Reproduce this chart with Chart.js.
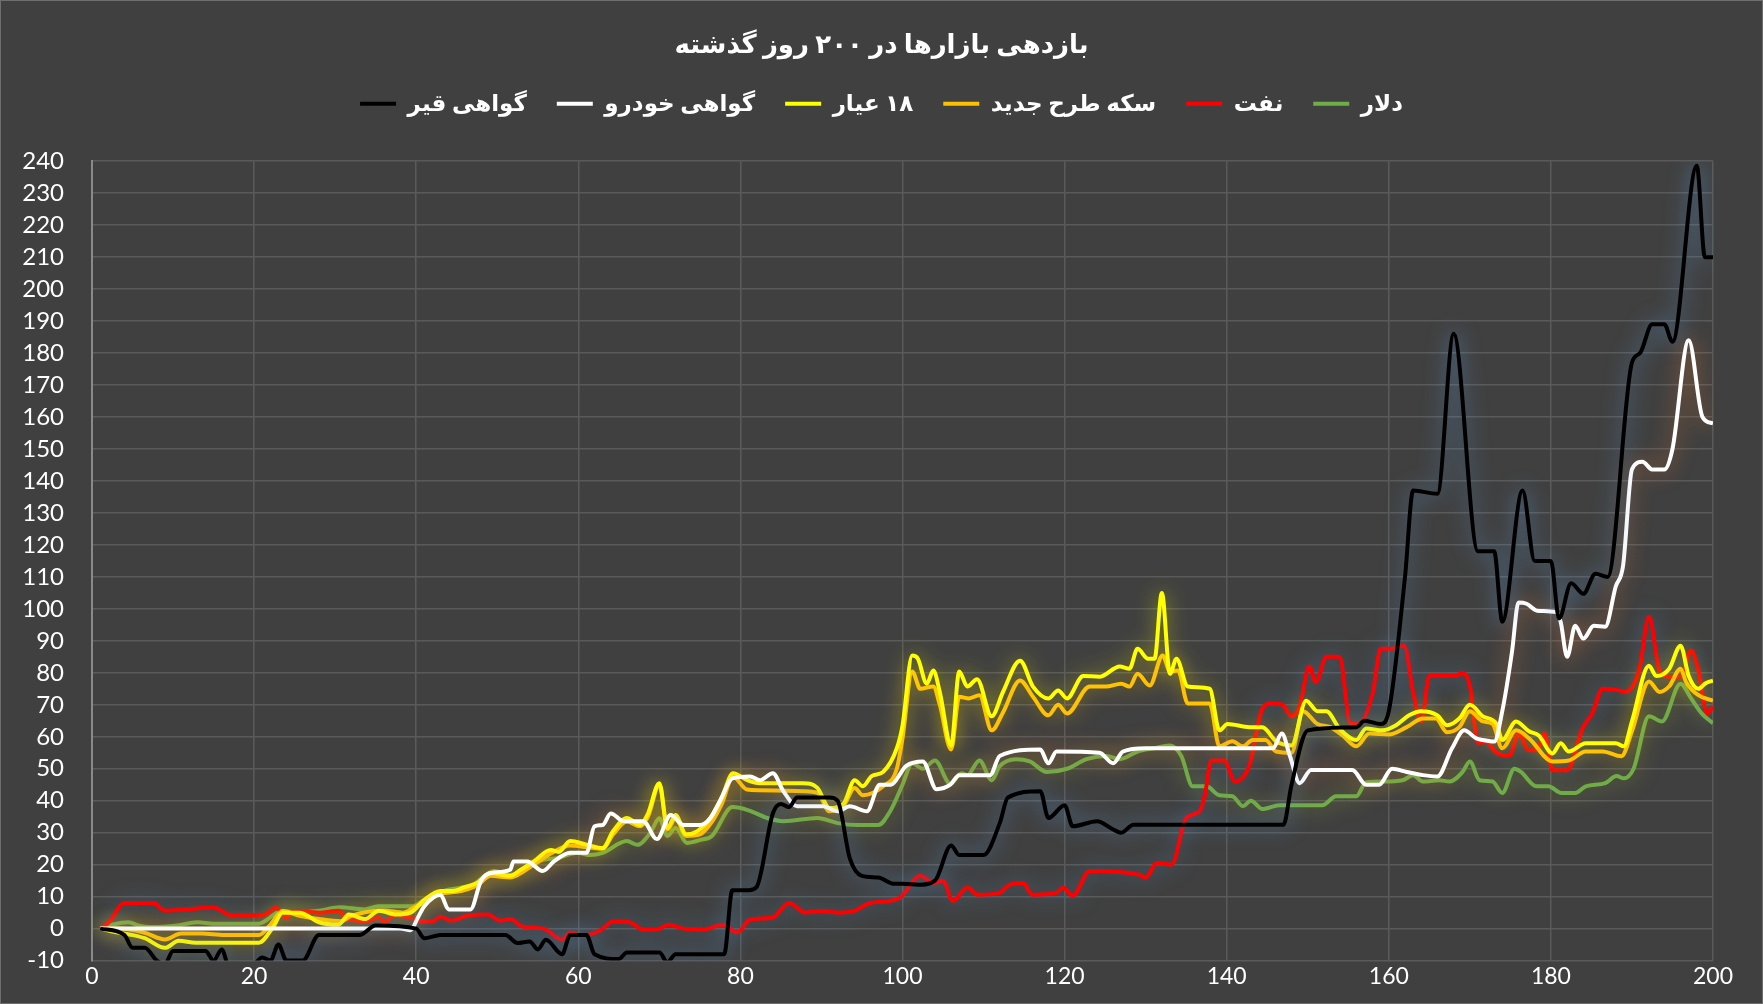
<!DOCTYPE html>
<html>
<head>
<meta charset="utf-8">
<script src="https://cdn.jsdelivr.net/npm/chart.js@4.4.1/dist/chart.umd.min.js"></script>
<style>
  html, body { margin: 0; padding: 0; background: #404040; }
  #wrap { width: 1763px; height: 1004px; box-sizing: border-box; border: 1px solid #6e6e6e; }
</style>
</head>
<body>
<div id="wrap"><canvas id="grafico"></canvas></div>
<script>
// دلار
const dollarDays = [1, 2.6, 4.5, 5.7, 7.3, 10.5, 13, 15, 20.5, 23.5, 25.2, 28, 30.6, 33.6, 35.3, 38, 39.5, 41, 43.4, 45.5, 47, 49.6, 51.6, 53.2, 55.7, 57.4, 59.9, 61.5, 63, 66, 67.3, 68.9, 70, 71, 72, 73.4, 75, 76.5, 79, 81, 83.3, 85.3, 89.5, 92, 94.4, 97, 98.5, 100, 101.2, 102.5, 104, 105.9, 107.3, 108, 109.5, 111, 112, 114, 115.7, 117.8, 120.3, 122.7, 125.2, 126.8, 129, 131, 133, 134.4, 135.8, 137.5, 139.1, 140.7, 142, 143, 144.4, 146.5, 151.8, 153.5, 156, 157.2, 159.2, 161.7, 163, 164.2, 166.2, 167.5, 169.1, 170, 171.2, 172.8, 174, 175.5, 176.3, 178.2, 179.7, 181.3, 183, 184.3, 186.7, 188.1, 189, 190.2, 192.1, 193.7, 196, 197.3, 198.6, 200];
const dollarVals = [0, 1.3, 2, 1, 0.5, 1, 2, 1.5, 1.5, 5.6, 5, 5.6, 6.7, 6, 7, 7, 7, 9, 11.8, 12.8, 13.7, 18, 16.8, 18.4, 21.5, 22, 23.7, 23, 23.7, 27.4, 26.2, 30, 34.5, 29, 31.5, 26.8, 27.7, 29, 38, 37, 34.6, 33.6, 34.6, 33, 32.4, 32.4, 36.8, 45, 51.7, 50, 52.6, 45.3, 48.6, 48, 52.6, 46.4, 50.8, 53, 52.3, 49, 50, 53, 54, 53, 55.4, 56.4, 57.3, 54, 44.5, 44.5, 41.7, 41.4, 38.3, 40, 37.4, 38.6, 38.6, 41.4, 41.4, 45.8, 46, 46.4, 48, 46, 46.4, 46, 49, 52.3, 46.4, 46, 42.4, 50, 49, 44.5, 44.5, 42.4, 42.4, 44.5, 45.5, 47.7, 47, 50, 66.4, 64.8, 76.6, 72, 67.3, 64.2];

// نفت
const oilDays = [1, 2.1, 4, 7.6, 9, 15, 17.4, 21.4, 22.7, 24, 24.8, 28, 30.5, 31.3, 33.8, 35.4, 36, 37.3, 39.3, 41, 42, 43, 44.3, 46.3, 48.8, 50.4, 51.6, 53.2, 55.7, 58, 59, 60.4, 62.7, 64.3, 66.3, 68, 69.7, 71.1, 73, 75.4, 77.9, 79.6, 81.2, 84, 86, 88, 90, 92, 94, 96, 98, 99.7, 102.2, 103.8, 105, 106.2, 108, 109.3, 112, 113.2, 114.9, 116, 119, 119.8, 121, 123.1, 129.3, 130, 131.4, 133.2, 135, 136.7, 137.3, 138.1, 139.7, 141, 142.8, 144.4, 145.5, 146.9, 148, 149, 150.2, 151, 152.3, 153.9, 155.3, 156.3, 158, 159, 160.4, 161.9, 163, 164, 165, 168.3, 169, 170, 171, 171.9, 173.3, 174.9, 176, 177.3, 178.3, 179.2, 180.2, 182, 183.9, 185.1, 186.4, 188.4, 189.2, 190.9, 192.1, 193.4, 194.6, 196, 197.3, 198.2, 199.3, 200];
const oilVals = [0, 2, 8, 8, 5.6, 6.5, 4, 4.4, 6.5, 3.4, 5.5, 5, 5.6, 3.4, 2.3, 3.5, 2, 4, 3.4, 2.2, 2.2, 3.7, 2.5, 4, 4.4, 2.5, 3, 0.6, 0, -3.4, -1.2, -2.2, -0.6, 2.2, 2, -0.3, -0.3, 1.2, 0, -0.3, 1.2, -1.2, 2.8, 3.5, 8, 5, 5.5, 5, 5.5, 8, 8.5, 9.7, 16.5, 14.3, 15, 8.7, 12.8, 10.6, 11.2, 13.7, 14.3, 10.6, 11.2, 12.8, 10.3, 18, 16.8, 15.9, 20.6, 20, 34.6, 36.8, 41.7, 52.6, 52.6, 46, 51, 68.8, 70.4, 70, 66.4, 69.5, 82, 77, 85, 85, 64, 64, 73.5, 87.5, 87.5, 88.5, 74, 64.8, 79, 79, 80, 76, 58, 58.5, 55, 54, 61, 55.8, 55.8, 61, 49.5, 49.5, 62.6, 67.3, 75, 74.5, 74, 81, 97.5, 80.7, 78.8, 78.8, 87, 80.7, 67.3, 69.5];

// سکه طرح جدید
const coinDays = [1, 3.3, 6.5, 9, 11, 13.5, 16.3, 20.6, 22, 23.5, 25.6, 28, 30.7, 32, 36, 38.4, 40, 41, 43, 45, 47.5, 49.2, 51.6, 53, 54.5, 56.6, 59, 61, 63, 64.3, 66, 67.6, 68.6, 70, 71, 72, 73.3, 75, 76.5, 77.7, 79.1, 80.8, 82.4, 87.7, 89.5, 91, 92.7, 94.1, 95.1, 97.6, 99.3, 100, 101.2, 102.2, 103.8, 104.6, 106, 107, 108.2, 109.5, 111, 112.4, 114.5, 116.1, 118, 119.2, 120.3, 123.1, 125.1, 127, 128, 129, 130.5, 132.1, 133, 134, 135.2, 137.9, 139.1, 140.7, 142, 143.2, 144.8, 146.1, 148, 149.4, 151.2, 152.8, 154.3, 156, 157.6, 160, 162.2, 164.2, 165.8, 167.2, 168.7, 170, 171.6, 172.8, 174, 175.7, 177.3, 180.2, 182.2, 184.3, 186.4, 188.7, 190, 192.1, 193.4, 194.6, 196, 196.7, 198.2, 200];
const coinVals = [0, 0, -1.3, -3.4, -1.5, -1.5, -2, -2, 1.2, 5.5, 4, 3, 2.3, 4, 5.7, 5, 7, 8, 11, 11.5, 13.5, 16.5, 16, 17.5, 20, 23.5, 26, 25.5, 25, 29.5, 33.5, 32, 35, 45, 31, 34.5, 29, 29.5, 33.5, 39, 47.5, 43.5, 43.3, 43, 42.5, 36.7, 38.3, 44, 41.7, 44.5, 50, 59.5, 80.4, 75, 75.7, 70, 56, 72.5, 72, 73, 62, 67.6, 77.6, 72.5, 66.7, 70, 67.3, 75.7, 75.7, 76.6, 75.7, 79.7, 76, 85.4, 80.4, 80.7, 70.4, 70.4, 57, 58.6, 57, 59, 59, 55.4, 55, 68, 64, 63, 60.4, 57, 61, 60.7, 63, 65.7, 65.7, 61.4, 63, 68, 64.8, 64, 56.4, 62, 59.5, 52.3, 52.6, 55.4, 55.4, 53.9, 61.7, 77.3, 74, 75.8, 81.3, 77, 73, 71.3];

// ۱۸ عیار
const goldDays = [1, 3.3, 5, 6.5, 9, 10.7, 12.8, 20.6, 22.3, 23.5, 25.6, 28, 30.4, 31.7, 33.7, 35.4, 37.5, 39.3, 41, 43, 44.6, 45.8, 47.5, 49.2, 51.6, 52.9, 54.5, 56.6, 57.6, 59, 61.1, 63, 64.3, 66, 67.6, 68.6, 70, 71, 72, 73.3, 74.7, 76.3, 77.7, 79.1, 80.8, 82.4, 87.7, 89.5, 91, 92.7, 94.1, 95.1, 96.2, 97.6, 99.3, 100, 101.2, 101.9, 103, 103.8, 104.6, 106, 107, 108, 109.2, 111, 112.4, 114.5, 116.1, 118, 119.2, 120.3, 122.3, 124.3, 126.8, 128, 129, 130.3, 131.1, 132, 133, 133.8, 135.2, 137.9, 139.1, 140.1, 142.8, 144.4, 146.1, 148, 149.8, 151.2, 152.3, 153.9, 156, 157.2, 159.2, 160.9, 162.5, 164, 166, 167.2, 168.7, 170, 171.6, 173.3, 174, 175.7, 177.3, 178.5, 180.2, 181.2, 182.2, 184.3, 188, 189, 190, 192.1, 193, 194.6, 196, 197, 198.2, 199, 200];
const goldVals = [0, -1.3, -2, -3, -6, -3.8, -4.4, -4.4, 0.3, 5, 5, 2, 1.2, 4.4, 3, 5.6, 4.4, 5, 9, 11.8, 11.8, 12.8, 14.3, 17.4, 16.5, 18.4, 21, 24.6, 24, 27.4, 26.2, 25.2, 30.5, 34.6, 32.4, 36, 45.5, 31.5, 35.5, 29.5, 30.5, 34.6, 41, 48.6, 46.5, 45.5, 45.5, 44, 37.7, 39, 46.4, 44.5, 47.7, 49, 56.4, 63.5, 85.4, 84.4, 76.6, 80.7, 74, 57.3, 80.4, 75.7, 78, 66.4, 74, 83.8, 75.7, 72, 74.5, 72, 79, 78.8, 82, 81.3, 87.5, 84.4, 84.4, 105, 79.7, 84.4, 75.7, 75, 62, 64, 63, 63, 58.6, 57.3, 71.3, 68, 68, 62.6, 59, 62.6, 62, 63.6, 66.7, 68, 66.7, 63.6, 65.7, 70, 66.4, 64, 59, 64.8, 61.7, 60.4, 54.8, 58, 55.4, 58, 58, 57, 64.8, 82.2, 79, 81.3, 88.5, 79, 75, 76.6, 77.6];

// گواهی خودرو
const carDays = [1, 38, 39.3, 40.2, 41, 43, 44, 46.7, 48, 49.2, 51.6, 52, 53.7, 55.6, 57, 59, 61, 62, 63, 64, 65.6, 68, 69.7, 71.4, 73, 75, 76.3, 77.5, 79, 81.2, 82.4, 84, 85.3, 87, 90.2, 92, 93.5, 95.6, 97.2, 98.5, 100.5, 102.5, 104.2, 105.9, 107, 110.8, 112, 117, 118, 119, 124.3, 126, 127.2, 130, 145.7, 146.8, 147.8, 149, 150.4, 155.5, 157.2, 158.8, 160.4, 162.2, 164.2, 166, 167.8, 169.3, 170.8, 171.6, 173, 174, 175.2, 176, 177, 178.3, 180.6, 181.2, 182, 183, 184, 185.3, 186.7, 188, 188.9, 190, 191.3, 192.5, 194, 195, 197, 198.7, 200];
const carVals = [0, 0, -0.5, 3.4, 7, 10.6, 6, 6, 15, 17.4, 18.4, 21, 21, 18, 21, 23.7, 23.7, 32, 32.4, 36, 33.6, 33.6, 28, 35.5, 32.4, 32.4, 34.6, 40, 47, 47.6, 46.4, 48.6, 43, 38.3, 38.3, 36.7, 38.3, 36.7, 45, 45, 51, 52.3, 43.6, 45, 48, 48, 54, 56, 51.7, 55.4, 55, 51.7, 55.4, 56.4, 56.4, 61, 54, 45.5, 49.6, 49.6, 45, 45, 50, 49, 48, 47.6, 56.4, 62, 59.5, 59, 58.5, 68, 86.6, 102, 101.6, 99.4, 99, 96, 85, 94.7, 90.7, 94.7, 94.4, 107, 113.4, 143.6, 146, 143.6, 143.6, 150, 184, 160, 158];

// گواهی قیر
const bitumenDays = [1, 4, 5, 6.5, 8, 9, 10, 12, 14, 15, 16, 17, 19, 21, 22, 23, 24, 26, 28, 33, 35, 40, 41, 43, 51, 52.5, 54, 55, 56, 58, 59, 61, 62, 65, 66, 70, 71, 72, 78, 79, 81, 82, 84, 85, 86, 87, 91, 92, 93.5, 95, 97, 99, 100, 102, 104, 106, 107, 110, 112, 113, 117, 118, 120, 121, 124, 126, 127, 128.5, 147, 148, 150, 156, 157, 159, 160, 162, 163, 166, 168, 171, 173, 174, 176.5, 178, 180, 181, 182.5, 184, 185.5, 187, 190, 191, 192.5, 194, 195, 198, 199, 200];
const bitumenVals = [0, -2, -6, -6, -10, -11, -7, -7, -7, -10, -6.5, -13, -14, -9, -10, -5, -10, -10, -2, -2, 1, 0, -3, -2, -2, -4.5, -4, -6.5, -3.5, -8, -2, -2, -8, -9.5, -7.5, -7.5, -10.5, -8, -8, 12, 12, 13, 36, 39, 38, 41, 41, 40, 22, 16.5, 16, 14, 14, 13.7, 15, 26, 23, 23, 33, 41, 43, 34.6, 38.6, 32, 33.6, 31, 30, 32.5, 32.5, 45, 62, 63, 65, 64, 68, 110, 137, 136, 186, 118, 118, 96, 137, 115, 115, 97, 108, 104.7, 111, 110, 177, 180, 189, 189, 183.5, 238.6, 210, 210];

// ترتیب: اولی روی همه کشیده می‌شود
const seriesNames = ['گواهی قیر', 'گواهی خودرو', '\u200F۱۸ عیار', 'سکه طرح جدید', 'نفت', 'دلار'];
const seriesColors = ['#000000', '#FFFFFF', '#FFFF00', '#FFC000', '#FF0000', '#70AD47'];
const glowColors = ['rgba(91,155,213,0.7)', 'rgba(237,125,49,0.65)', 'rgba(255,255,0,0.5)', 'rgba(255,192,0,0.5)', 'rgba(91,155,213,0.5)', 'rgba(190,210,60,0.5)'];
const seriesDays = [bitumenDays, carDays, goldDays, coinDays, oilDays, dollarDays];
const seriesVals = [bitumenVals, carVals, goldVals, coinVals, oilVals, dollarVals];

const yTicks = [-10, 0, 10, 20, 30, 40, 50, 60, 70, 80, 90, 100, 110, 120, 130, 140, 150, 160, 170, 180, 190, 200, 210, 220, 230, 240];

const fonte = "Lato, 'DejaVu Sans', sans-serif";

// brilho em volta das linhas
const brilho = {
    id: 'brilho',
    beforeDatasetDraw(chart, args) {
        const ctx = chart.ctx;
        ctx.save();
        ctx.shadowColor = glowColors[args.index];
        ctx.shadowBlur = 20;
    },
    afterDatasetDraw(chart) {
        chart.ctx.restore();
    }
};

// espaço extra abaixo da legenda
const espacoLegenda = {
    id: 'espacoLegenda',
    beforeUpdate(chart) {
        const leg = chart.legend;
        if (leg && !leg._esticada) {
            const fitOrig = leg.fit;
            leg.fit = function () {
                fitOrig.call(this);
                this.height += 36;
            };
            leg._esticada = true;
        }
    }
};

const datasets = seriesNames.map((nome, i) => ({
    label: nome,
    data: seriesDays[i].map((d, j) => ({ x: d, y: seriesVals[i][j] })),
    borderColor: seriesColors[i],
    backgroundColor: seriesColors[i],
    borderWidth: 4,
    pointRadius: 0,
    cubicInterpolationMode: 'monotone',
    fill: false
}));

new Chart(document.getElementById('grafico'), {
    type: 'line',
    data: { datasets: datasets },
    plugins: [brilho, espacoLegenda],
    options: {
        responsive: true,
        maintainAspectRatio: false,
        animation: false,
        layout: { padding: { top: 24, right: 12, bottom: 10, left: 12 } },
        plugins: {
            title: {
                display: true,
                text: 'بازدهی بازارها در ۲۰۰ روز گذشته',
                color: '#FFFFFF',
                font: { family: fonte, size: 26, weight: 'bold' },
                padding: { top: 4, bottom: 2 }
            },
            legend: {
                position: 'top',
                labels: {
                    color: '#FFFFFF',
                    font: { family: fonte, size: 23, weight: 'bold' },
                    usePointStyle: true,
                    pointStyle: 'line',
                    pointStyleWidth: 36,
                    boxHeight: 12,
                    padding: 30
                }
            },
            tooltip: { enabled: false }
        },
        scales: {
            x: {
                type: 'linear',
                min: 0,
                max: 200,
                afterFit(scale) { scale.paddingRight = 49; },
                ticks: { stepSize: 20, color: '#FFFFFF', padding: 2, font: { family: fonte, size: 23 } },
                grid: { color: '#5a5a5a', lineWidth: 1.5, drawTicks: false },
                border: { color: '#5a5a5a' }
            },
            y: {
                min: -10,
                max: 240,
                afterBuildTicks(scale) { scale.ticks = yTicks.map(v => ({ value: v })); },
                afterFit(scale) { scale.width = 79; },
                ticks: { color: '#FFFFFF', padding: 28, font: { family: fonte, size: 24 } },
                grid: { color: '#5a5a5a', lineWidth: 1.5, drawTicks: false },
                border: { color: '#8a8a8a', width: 2 }
            }
        }
    }
});
</script>
</body>
</html>
